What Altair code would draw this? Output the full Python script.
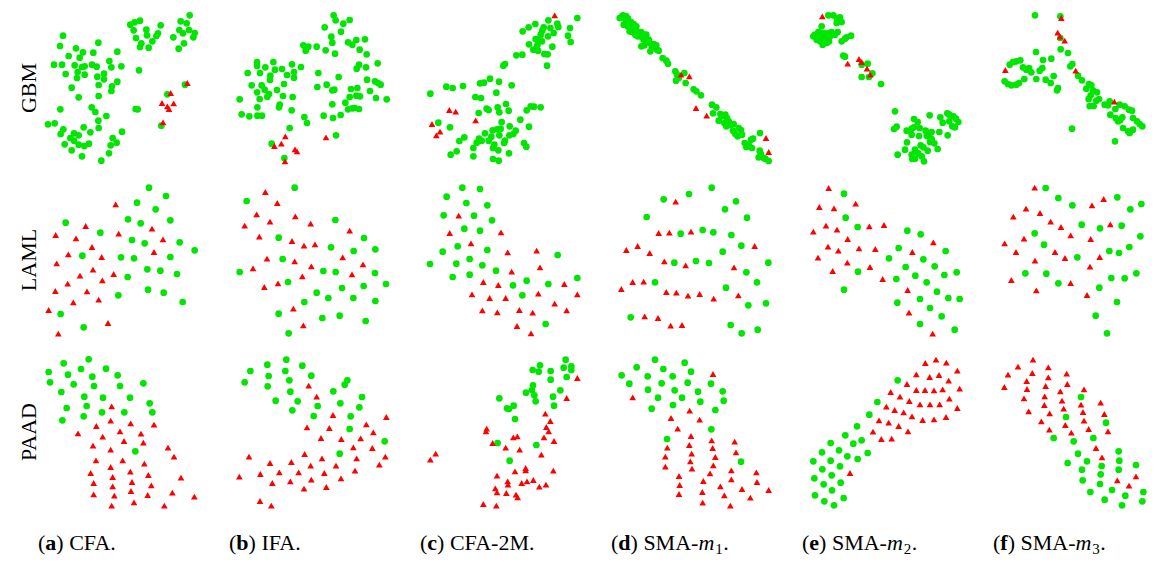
import altair as alt
import pandas as pd

GREEN = "#00e600"
RED = "#ff0000"
FONT = "Liberation Serif"

DATASETS = ["GBM", "LAML", "PAAD"]
METHODS = ["CFA", "IFA", "CFA-2M", "SMA-m1", "SMA-m2", "SMA-m3"]
LETTERS = ["a", "b", "c", "d", "e", "f"]
CAPTIONS = ["CFA.", "IFA.", "CFA-2M.", "SMA-", "SMA-", "SMA-"]
SUBSCRIPTS = ["", "", "", "1", "2", "3"]

# ---- embedding coordinates (x right, y down) ----
GBM_CFA_N = [(277,50),(290,43),(306,38),(287,67),(325,65),(368,52),(327,82),(360,76),(355,84),(294,90),(343,100),(310,106),(306,117),(332,119),
 (455,22),(428,40),(446,46),(424,66),(435,76),(453,66),(470,75),(466,88),(406,88),(438,106),(422,122),
 (75,83),(66,114),(181,104),(114,121),(135,133),(92,144),(125,149),(166,134),(238,131),(48,170),(72,170),(110,172),(132,177),(140,175),(162,170),(176,176),(214,159),(220,178),(250,175),(119,192),(83,198),(140,200),(117,210),(178,206),(198,197),(198,214),(238,221),(182,231),(222,235),(220,249),(101,239),(182,264),(122,268),(303,187),
 (293,303),(299,304),(67,304),(161,298),(172,312),(205,324),(181,338),(30,349),(50,346),(76,364),(68,378),(137,358),(182,360),(157,373),(252,371),(108,376),(122,382),(97,390),(108,398),(224,390),(236,404),(218,412),(80,409),(122,410),(139,414),(153,407),(101,427),(132,445),(213,436),(190,458),
 (441,230),(388,259),(370,353)]
GBM_CFA_T = [(448,225),(398,255),(372,285),(407,286),(388,295),(393,303),(375,343)]

GBM_IFA_N = [(338,22),(344,37),(367,47),(386,36),(311,58),(360,71),(331,86),(334,104),(381,103),(394,110),(406,96),(432,94),(287,116),(314,127),(342,137),(416,125),(437,139),(247,112),(255,118),(262,116),(254,128),
 (108,162),(108,174),(157,162),(133,178),(162,185),(183,183),(213,169),(240,177),(80,195),(117,195),(148,203),(147,216),(198,201),(219,192),(219,209),(292,195),(353,207),(414,170),(407,182),(435,178),(470,166),(438,215),(462,220),(471,225),(479,230),
 (92,232),(122,232),(131,245),(108,253),(144,258),(139,266),(168,246),(189,228),(186,264),(215,267),(56,274),(116,273),(176,290),(174,298),(109,298),(212,307),(289,237),(317,230),(340,245),(334,247),(390,243),(409,240),(447,249),(386,267),(406,263),(417,265),(465,270),(497,274),(334,289),(373,284),
 (62,319),(85,325),(109,323),(123,323),(250,327),(258,345),(308,323),(336,330),(359,321),(381,304),(394,301),(401,300),(414,303),(206,360),(345,382),(152,407),(190,450)]
GBM_IFA_T = [(193,385),(181,407),(160,414),(222,424),(228,430),(315,388),(192,460)]

GBM_CFA2M_N = [(490,30),(403,37),(430,47),(433,57),(364,48),(344,58),(326,70),(389,58),(409,60),(385,68),(380,80),(419,75),(402,85),(462,83),(468,60),(470,102),(365,93),(372,97),(384,100),(345,109),(370,112),(415,116),(358,125),(372,128),(391,138),(401,139),(307,142),(325,140),(399,173),(268,173),(273,168),
 (49,257),(97,236),(116,240),(147,234),(198,226),(210,224),(228,212),(255,221),(293,232),(247,254),(184,267),(201,270),(218,302),(224,306),(251,298),(256,313),(276,288),(284,308),(194,315),(350,295),(360,296),(380,298),(338,307),(319,335),(345,356),(263,342),(73,344),(108,358),
 (151,388),(136,399),(213,376),(236,367),(249,364),(260,362),(232,386),(256,382),(287,355),(305,368),(298,378),(286,382),(195,392),(188,404),(203,398),(224,398),(241,410),(237,420),(273,398),(270,405),(330,405),(337,416),(178,420),(128,430),(110,440),(253,427),(285,436),(178,445),(237,453),(254,458)]
GBM_CFA2M_T = [(422,22),(106,306),(125,311),(185,337),(54,348),(78,371),(67,382)]

GBM_SMA1_N = [(45,25),(52,30),(58,36),(60,40),(65,45),(70,50),(74,55),(80,58),(85,62),(90,70),(95,75),(100,80),(68,70),(75,72),(85,80),(92,85),(105,88),(110,95),(118,80),(125,95),(128,105),(103,115),(112,112),(135,118),(148,112),(155,128),(130,130),(167,150),(178,158),(183,167),
 (48,22),(55,28),(63,32),(72,42),(80,48),(88,55),(102,72),(108,78),(115,88),(122,100),(140,108),(150,125),(50,50),(62,55),(38,30),(58,25),
 (205,190),(210,200),(232,195),(207,218),(236,225),(215,210),(260,244),(268,250),(282,262),(315,290),(328,298),(318,316),(340,318),(345,325),(355,320),(360,330),(335,338),(352,345),(365,340),(372,350),(358,355),(380,348),(395,360),(402,366),(378,368),(385,378),(392,385),(405,380),(432,395),(438,392),(413,405),(425,410),(418,417),(435,420),(459,375),(458,428),(462,438),(470,450),(475,452),(485,459),(455,448)]
GBM_SMA1_T = [(222,200),(247,205),(267,300),(299,323),(477,390),(485,432)]

GBM_SMA2_N = [(100,22),(115,22),(125,30),(135,28),(140,42),(125,45),(80,55),(60,80),(55,85),(65,95),(75,100),(83,110),(95,105),(102,100),(90,90),(100,75),(110,72),(120,80),(128,72),(85,75),(70,72),(140,100),(150,92),(168,83),(155,88),(105,85),(72,85),
 (145,143),(150,146),(200,170),(218,167),(200,207),(222,207),(232,196),(258,228),
 (300,310),(357,333),(368,342),(404,322),(436,328),(457,316),(463,320),(475,325),(483,332),(490,342),(443,344),(463,340),(472,355),(480,358),(297,363),(305,356),(335,368),(350,362),(357,358),(374,360),(392,368),(398,378),(395,383),(410,372),(433,372),(458,382),(350,380),(372,384),(403,386),(410,393),(418,406),(405,402),(336,403),(377,412),(385,418),(360,425),(398,428),(428,423),(308,440),(330,425),(350,440),(370,436),(380,445),(352,453),(360,452),(387,460)]
GBM_SMA2_T = [(82,25),(192,153),(200,162),(158,167),(216,182),(226,200)]

GBM_SMA3_N = [(156,22),(232,25),(232,90),(233,124),(255,135),(159,132),(180,156),(205,152),(112,157),(100,160),(90,162),(80,170),(120,178),(130,185),(138,180),(145,193),(170,188),(178,180),(160,213),(124,213),(188,215),(203,225),(212,204),(225,240),(222,247),(65,220),(75,228),(85,232),(100,230),(108,225),
 (262,175),(268,168),(285,203),(297,217),(318,228),(325,232),(310,242),(330,247),(342,253),(323,262),(317,273),(340,278),(348,273),(320,294),(332,294),(365,290),(375,292),(380,280),(397,303),(410,290),(425,295),(438,305),(447,308),(382,320),(398,330),(405,340),(412,336),(418,328),(450,330),(462,340),(470,348),(478,355),(420,360),(435,370),(440,375),(450,365),(267,362),(396,400)]
GBM_SMA3_T = [(235,30),(224,74),(231,86),(245,98),(278,188),(67,186),(394,281)]

LAML_CFA_N = [(333,35),(384,60),(297,80),(353,100),(270,130),(308,142),(397,133),(83,140),(187,170),(282,192),(320,202),(425,199),(470,223),(133,239),(249,244),(288,247),(397,243),(328,280),(367,284),(417,294),(269,303),(241,358),(330,341),(377,350),(434,378),(68,414),(137,454)]
LAML_CFA_T = [(233,85),(143,150),(53,177),(114,187),(242,173),(342,158),(375,190),(162,213),(91,235),(191,243),(348,228),(56,262),(165,281),(126,299),(227,294),(193,313),(89,323),(52,345),(147,346),(182,371),(106,379),(32,402),(210,441),(61,473)]

LAML_IFA_N = [(776,35),(632,75),(898,132),(728,185),(984,186),(885,214),(953,225),(1018,220),(740,249),(611,288),(862,285),(899,288),(1017,291),(1050,324),(756,318),(918,336),(983,330),(842,350),(877,366),(952,366),(1018,375),(805,378),(728,413),(859,426),(911,419),(989,435),(758,472)]
LAML_IFA_T = [(688,48),(724,81),(662,115),(626,149),(702,137),(778,121),(824,143),(941,164),(670,182),(768,195),(804,209),(837,205),(693,248),(776,256),(826,271),(920,244),(981,265),(948,295),(651,277),(685,333),(726,322),(799,301),(772,398),(802,448)]

LAML_CFA2M_N = [(145,35),(198,39),(98,62),(157,81),(220,88),(89,118),(180,119),(234,133),(151,158),(198,164),(131,211),(220,222),(86,227),(48,264),(127,263),(167,249),(205,268),(246,284),(116,303),(167,296),(297,328),(338,314),(325,358),(403,324),(431,237),(490,306),(395,444)]
LAML_CFA2M_T = [(134,119),(107,171),(171,202),(261,169),(281,229),(368,224),(378,274),(293,287),(208,318),(253,327),(451,324),(174,355),(227,366),(275,366),(373,353),(490,355),(422,383),(205,403),(250,409),(316,402),(356,410),(458,403),(309,450),(351,472)]

LAML_SMA1_N = [(899,35),(831,54),(755,70),(972,76),(939,100),(704,123),(1005,125),(806,173),(872,162),(904,169),(958,177),(988,209),(932,227),(787,260),(852,255),(891,261),(1069,260),(1003,289),(1035,319),(729,319),(942,335),(1009,388),(1062,382),(656,424),(956,447),(989,472),(1037,461)]
LAML_SMA1_T = [(791,77),(740,171),(772,170),(837,167),(677,210),(643,222),(713,231),(757,256),(821,268),(1028,210),(966,274),(662,318),(695,317),(628,339),(763,348),(793,350),(828,359),(863,354),(905,368),(979,358),(698,421),(738,426),(776,449),(810,447)]

LAML_SMA2_N = [(162,53),(167,125),(203,153),(352,164),(392,175),(326,216),(467,225),(297,247),(400,250),(347,273),(434,271),(376,299),(463,297),(500,289),(204,287),(319,309),(410,319),(441,347),(475,366),(509,369),(390,369),(322,380),(420,396),(455,421),(390,444),(494,461),(162,341)]
LAML_SMA2_T = [(116,36),(197,83),(88,93),(132,97),(108,149),(141,161),(70,167),(238,151),(282,147),(173,189),(114,212),(145,224),(207,217),(256,219),(84,245),(172,260),(240,273),(128,285),(278,309),(367,228),(430,199),(353,342),(357,410),(428,473)]

LAML_SMA3_N = [(773,36),(811,66),(853,88),(988,64),(1027,100),(1060,84),(881,146),(936,157),(1001,149),(740,172),(768,206),(868,244),(964,225),(993,231),(1024,213),(1057,181),(712,292),(775,293),(811,322),(970,306),(1010,307),(1045,292),(934,335),(987,378),(923,419),(957,472)]
LAML_SMA3_T = [(740,35),(947,69),(912,88),(714,98),(756,111),(676,122),(788,137),(819,153),(848,178),(967,145),(908,189),(708,188),(650,202),(684,228),(801,228),(831,246),(741,254),(935,243),(906,272),(670,312),(848,321),(745,343),(897,357)]

PAAD_CFA_N = [(77,46),(152,34),(32,72),(129,63),(204,62),(90,80),(163,86),(239,82),(36,103),(107,109),(168,114),(246,114),(316,106),(70,132),(139,146),(195,149),(276,149),(335,166),(86,180),(146,174),(192,193),(259,193),(343,193),(73,217),(137,205),(292,310)]
PAAD_CFA_T = [(221,175),(175,234),(218,218),(278,226),(348,230),(120,256),(194,266),(246,250),(309,257),(165,293),(258,279),(316,284),(218,305),(390,299),(408,326),(174,337),(254,337),(319,347),(158,375),(218,357),(224,387),(277,371),(331,381),(429,389),(167,405),(224,415),(282,402),(340,412),(167,439),(229,443),(279,429),(329,441),(403,434),(469,446),(221,473),(288,463),(379,473)]

PAAD_IFA_N = [(694,50),(751,35),(799,53),(643,69),(698,84),(748,69),(826,83),(626,103),(695,115),(760,97),(763,131),(785,160),(719,158),(845,174),(769,187),(833,204),(892,130),(913,166),(934,97),(926,110),(978,147),(970,178),(944,205),(941,243),(1046,280),(911,317)]
PAAD_IFA_T = [(818,113),(842,146),(891,201),(813,238),(880,240),(855,270),(916,273),(991,229),(1012,253),(1051,207),(974,271),(952,298),(1009,300),(639,326),(702,345),(766,342),(806,318),(858,331),(962,331),(1048,326),(610,386),(673,378),(730,373),(788,373),(824,353),(865,375),(900,353),(957,368),(1030,350),(709,405),(763,400),(826,395),(915,391),(804,422),(871,417),(672,459),(706,473)]

PAAD_CFA2M_N = [(455,35),(378,52),(356,66),(374,71),(410,69),(449,59),(472,55),(472,66),(410,95),(458,87),(357,112),(354,126),(336,134),(361,142),(439,127),(417,146),(256,151),(299,173),(279,181),(285,183),(365,160),(420,173),(303,213),(251,285),(367,291),(287,338)]
PAAD_CFA2M_T = [(490,90),(458,150),(394,197),(409,219),(397,237),(404,250),(218,242),(216,250),(298,268),(310,265),(390,268),(420,279),(236,285),(275,299),(317,305),(382,320),(65,317),(49,335),(418,368),(303,370),(335,360),(335,367),(249,383),(281,400),(282,410),(323,405),(339,400),(358,396),(376,416),(396,410),(244,421),(249,433),(277,435),(306,440),(311,448),(208,468),(247,473)]

PAAD_SMA1_N = [(729,35),(818,44),(674,58),(754,63),(837,71),(629,82),(707,85),(782,85),(652,107),(749,106),(827,104),(897,107),(708,125),(788,127),(858,131),(932,130),(738,149),(810,149),(865,161),(935,158),(719,182),(783,171),(910,186),(898,244),(765,273),(987,341)]
PAAD_SMA1_T = [(903,78),(662,148),(833,188),(777,210),(863,215),(797,242),(837,264),(899,277),(968,281),(766,299),(832,291),(902,300),(972,313),(839,317),(760,326),(910,327),(835,340),(760,356),(840,362),(904,352),(958,367),(1033,373),(801,384),(894,376),(958,394),(1035,402),(874,399),(803,411),(925,415),(990,423),(801,438),(871,432),(937,442),(1015,449),(1070,426),(872,464),(955,473)]

PAAD_SMA2_N = [(323,97),(262,162),(238,200),(201,235),(166,262),(215,277),(190,287),(122,285),(147,307),(96,313),(172,325),(233,315),(203,333),(70,340),(122,338),(150,355),(97,364),(125,382),(73,391),(152,404),(101,409),(126,427),(75,442),(161,450),(103,460),(132,472)]
PAAD_SMA2_T = [(406,45),(438,35),(469,44),(502,68),(379,79),(419,87),(447,81),(476,98),(351,108),(509,122),(379,126),(405,126),(432,127),(458,124),(302,132),(330,146),(478,152),(358,159),(390,169),(420,169),(449,169),(502,180),(289,176),(314,186),(341,193),(366,205),(398,216),(432,214),(468,207),(267,217),(296,224),(326,234),(354,250),(249,251),(274,273),(305,272),(180,375)]

PAAD_SMA3_N = [(879,147),(834,207),(954,224),(797,270),(857,280),(916,270),(870,317),(839,345),(897,340),(882,365),(941,354),(992,310),(994,338),(992,365),(938,379),(884,397),(936,408),(1044,351),(907,432),(972,426),(1012,443),(950,455),(1002,472),(1063,460),(1066,432)]
PAAD_SMA3_T = [(735,35),(690,56),(660,80),(781,58),(733,75),(836,77),(716,99),(781,88),(649,117),(717,123),(773,114),(838,108),(817,130),(888,124),(708,151),(770,145),(822,158),(769,171),(827,182),(722,190),(785,196),(879,170),(885,192),(938,164),(949,198),(760,220),(832,231),(888,218),(784,245),(850,254),(902,243),(960,250),(924,300),(942,328),(988,397),(1023,413),(1044,385)]

PANELS = {
    "GBM": [(GBM_CFA_N, GBM_CFA_T), (GBM_IFA_N, GBM_IFA_T), (GBM_CFA2M_N, GBM_CFA2M_T),
            (GBM_SMA1_N, GBM_SMA1_T), (GBM_SMA2_N, GBM_SMA2_T), (GBM_SMA3_N, GBM_SMA3_T)],
    "LAML": [(LAML_CFA_N, LAML_CFA_T), (LAML_IFA_N, LAML_IFA_T), (LAML_CFA2M_N, LAML_CFA2M_T),
             (LAML_SMA1_N, LAML_SMA1_T), (LAML_SMA2_N, LAML_SMA2_T), (LAML_SMA3_N, LAML_SMA3_T)],
    "PAAD": [(PAAD_CFA_N, PAAD_CFA_T), (PAAD_IFA_N, PAAD_IFA_T), (PAAD_CFA2M_N, PAAD_CFA2M_T),
             (PAAD_SMA1_N, PAAD_SMA1_T), (PAAD_SMA2_N, PAAD_SMA2_T), (PAAD_SMA3_N, PAAD_SMA3_T)],
}

# origin of the coordinate readings for each panel (reference-picture pixels)
READ_X = {"GBM": [40, 225, 420, 615, 805, 995],
          "LAML": [40, 40, 420, 420, 800, 800],
          "PAAD": [40, 40, 420, 420, 800, 800]}
READ_Y = {"GBM": 10, "LAML": 178, "PAAD": 350}
REF_X0, REF_STEP_X = 40, 193
REF_Y0, REF_STEP_Y = 10, 172

PANEL_W, PANEL_H = 150, 160
COL_GAP, ROW_GAP = 41, 12
LEFT = 30          # room for the row titles inside the first column
SYM = 45


def panel(r, c, ds):
    circ, tri = PANELS[ds][c]
    extra = LEFT if c == 0 else 0
    x0 = 3 * (REF_X0 + REF_STEP_X * c - READ_X[ds][c]) - 3 * extra
    y0 = 3 * (REF_Y0 + REF_STEP_Y * r - READ_Y[ds])
    width = PANEL_W + extra
    xs = alt.Scale(domain=[x0, x0 + 3 * width], nice=False, zero=False)
    ys = alt.Scale(domain=[y0, y0 + 3 * PANEL_H], nice=False, zero=False, reverse=True)
    dn = pd.DataFrame(circ, columns=["x", "y"])
    dt = pd.DataFrame(tri, columns=["x", "y"])
    enc = dict(x=alt.X("x:Q", scale=xs, axis=None), y=alt.Y("y:Q", scale=ys, axis=None))
    layers = [
        alt.Chart(dn).mark_point(shape="circle", filled=True, opacity=1, size=SYM, color=GREEN).encode(**enc),
        alt.Chart(dt).mark_point(shape="triangle-up", filled=True, opacity=1, size=SYM, color=RED).encode(**enc),
    ]
    if c == 0:
        layers.append(alt.Chart(pd.DataFrame({"t": [ds]})).mark_text(
            angle=270, font=FONT, fontSize=22, align="center", baseline="middle", color="black"
        ).encode(text="t:N", x=alt.value(21), y=alt.value(PANEL_H / 2)))
    return alt.layer(*layers).properties(width=width, height=PANEL_H)


# ---- captions "(a) CFA." etc. with bold letter, italic m and subscript ----
FS = 22
REG = {'(': 333, ')': 333, ' ': 250, '.': 250, '-': 333, 'A': 722, 'C': 667, 'F': 556,
       'I': 333, 'M': 889, 'S': 556, '2': 500}
BOLD = {'a': 500, 'b': 556, 'c': 444, 'd': 556, 'e': 444, 'f': 333}
ITAL = {'m': 722}
SUB_FS = 15
CAP_H, BASE = 28, 26


def w(s, tab, fs):
    return sum(tab[ch] for ch in s) / 1000 * fs


def caption(c):
    extra = LEFT if c == 0 else 0
    width = PANEL_W + extra
    x = extra
    pieces = [dict(t="(", x=x, k="n")]
    x += w("(", REG, FS)
    pieces.append(dict(t=LETTERS[c], x=x, k="b"))
    x += w(LETTERS[c], BOLD, FS)
    s = ") " + CAPTIONS[c]
    pieces.append(dict(t=s, x=x, k="n"))
    if SUBSCRIPTS[c] != "":
        x += w(s, REG, FS)
        pieces.append(dict(t="m", x=x, k="i"))
        x += w("m", ITAL, FS) + 1
        pieces.append(dict(t=SUBSCRIPTS[c], x=x, k="s"))
        x += 0.5 * SUB_FS + 0.5
        pieces.append(dict(t=".", x=x, k="n"))
    pdf = pd.DataFrame(pieces)
    cx = alt.X("x:Q", scale=alt.Scale(domain=[0, width], nice=False, zero=False), axis=None)

    def lay(kind, **kw):
        return alt.Chart(pdf[pdf.k == kind]).mark_text(
            font=FONT, align="left", baseline="alphabetic", color="black", **kw
        ).encode(x=cx, y=alt.value(BASE), text="t:N")

    layers = [lay("n", fontSize=FS), lay("b", fontSize=FS, fontWeight="bold")]
    if SUBSCRIPTS[c] != "":
        layers += [lay("i", fontSize=FS, fontStyle="italic"), lay("s", fontSize=SUB_FS, dy=4)]
    return alt.layer(*layers).properties(width=width, height=CAP_H)


cells = [panel(r, c, ds) for r, ds in enumerate(DATASETS) for c in range(6)]
cells += [caption(c) for c in range(6)]

chart = alt.concat(
    *cells, columns=6, spacing={"row": ROW_GAP, "column": COL_GAP}, bounds="flush", align="each"
).resolve_scale(x="independent", y="independent").properties(
    padding={"left": 0, "top": 0, "right": 0, "bottom": 0}
).configure_view(stroke=None)

chart.save("out.html", embed_options={"renderer": "svg", "actions": False})
